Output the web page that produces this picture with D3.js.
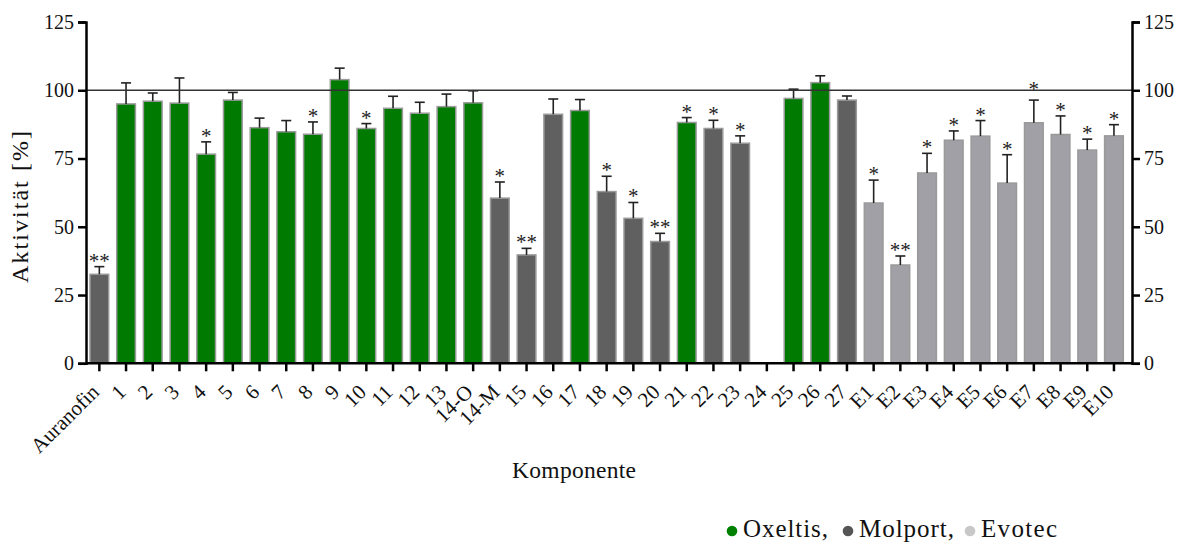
<!DOCTYPE html>
<html><head><meta charset="utf-8">
<script src="https://cdn.jsdelivr.net/npm/d3@7"></script>
<style>body{margin:0;background:#fff}svg{display:block}</style>
</head><body><svg id="c" width="1182" height="544"></svg>
<script>
const categories = ["Auranofin","1","2","3","4","5","6","7","8","9","10","11","12","13","14-O","14-M","15","16","17","18","19","20","21","22","23","24","25","26","27","E1","E2","E3","E4","E5","E6","E7","E8","E9","E10"];
const values = [32.6,95.0,96.0,95.3,76.6,96.4,86.3,84.8,83.9,103.9,86.0,93.4,91.6,94.0,95.4,60.5,39.7,91.2,92.6,62.9,53.1,44.6,88.2,86.0,80.6,null,97.0,102.8,96.4,58.7,36.0,69.7,81.7,83.2,66.0,88.1,83.8,78.1,83.3];
const errorTops = [35.4,102.7,99.0,104.5,81.1,99.2,89.8,88.9,88.4,108.1,87.8,97.8,95.6,98.6,99.8,66.4,42.1,96.8,96.6,68.5,58.9,47.6,90.0,89.0,83.3,null,100.4,105.3,97.9,67.1,39.3,76.9,85.1,88.9,76.4,96.4,90.6,82.1,87.4];
const sources = ["M","O","O","O","O","O","O","O","O","O","O","O","O","O","O","M","M","M","O","M","M","M","O","M","M","M","O","O","M","E","E","E","E","E","E","E","E","E","E"];
const significance = ["**","","","","*","","","","*","","*","","","","","*","**","","","*","*","**","*","*","*","","","","","*","**","*","*","*","*","*","*","*","*"];
const yTicks = [0,25,50,75,100,125];
const legendNames = ["Oxeltis,","Molport,","Evotec"];
const legendKeys = ["O","M","E"];

const fillColor = {O:"#007a00", M:"#606060", E:"#a0a0a6"};
const legendColor = {O:"#008000", M:"#555555", E:"#c8c8c8"};
const FONT = "Liberation Serif, serif";

const svg = d3.select("#c");
const L = 86, R = 1132, T = 22, B = 363.3;
const x = d3.scaleBand().domain(categories).range([L, L + 39*26.7]).paddingInner(0.3).paddingOuter(0.15);
const y = d3.scaleLinear().domain([0,125]).range([B, T]);

const data = categories.map((c,i)=>({c, v:values[i], e:errorTops[i], s:sources[i], sig:significance[i]}));
const bd = data.filter(d=>d.v!=null);
svg.append("g").selectAll("rect").data(bd).join("rect")
  .attr("x", d=>x(d.c)).attr("width", x.bandwidth())
  .attr("y", d=>y(d.v)).attr("height", d=>y(0)-y(d.v))
  .attr("fill", d=>fillColor[d.s]).attr("stroke","#9a9a9a").attr("stroke-width",1.5);

const eg = svg.append("g").attr("stroke","#222").attr("stroke-width",1.6);
bd.forEach(d=>{
  const cx = x(d.c)+x.bandwidth()/2;
  eg.append("line").attr("x1",cx).attr("x2",cx).attr("y1",y(d.v)).attr("y2",y(d.e));
  eg.append("line").attr("x1",cx-5).attr("x2",cx+5).attr("y1",y(d.e)).attr("y2",y(d.e));
});

// significance marks (lifted onto the 100 % line when they would cross it)
svg.append("g").selectAll("text").data(bd.filter(d=>d.sig)).join("text")
  .attr("x", d=>x(d.c)+x.bandwidth()/2)
  .attr("y", d=>{ let yy = y(d.e)+1; if (yy > y(100)+6 && yy-14 < y(100)) yy = y(100)+6; return yy; })
  .attr("text-anchor","middle").attr("font-family",FONT).attr("font-size",21).attr("fill","#222")
  .text(d=>d.sig);

svg.append("line").attr("x1",L).attr("x2",R).attr("y1",y(100)).attr("y2",y(100))
  .attr("stroke","#333").attr("stroke-width",1.6);

const yl = svg.append("g").attr("transform",`translate(${L},0)`).call(d3.axisLeft(y).tickValues(yTicks).tickSize(8).tickPadding(4));
const yr = svg.append("g").attr("transform",`translate(${R},0)`).call(d3.axisRight(y).tickValues(yTicks).tickSize(8).tickPadding(4));
const xa = svg.append("g").attr("transform",`translate(0,${B})`).call(d3.axisBottom(x).tickSize(8).tickSizeOuter(0));
xa.select(".domain").attr("d",`M${L},0H${R}`);
[yl,yr,xa].forEach(g=>{
  g.select(".domain").attr("stroke","#000").attr("stroke-width",2.5);
  g.selectAll(".tick line").attr("stroke","#000").attr("stroke-width",2.5);
  g.selectAll("text").attr("font-family",FONT).attr("font-size",20).attr("fill","#111");
});
xa.selectAll(".tick text").attr("font-size",21).attr("text-anchor","end").attr("dy",null).attr("y",0)
  .attr("transform","translate(1,30) rotate(-45)");

svg.append("text").attr("transform",`translate(28,207) rotate(-90)`).attr("text-anchor","middle")
  .attr("font-family",FONT).attr("font-size",24).attr("fill","#111")
  .attr("textLength",152).attr("lengthAdjust","spacing").text("Aktivität [%]");
svg.append("text").attr("x",574).attr("y",478).attr("text-anchor","middle")
  .attr("font-family",FONT).attr("font-size",23.5).attr("fill","#111")
  .attr("textLength",124).attr("lengthAdjust","spacing").text("Komponente");

const legX = [732, 848, 970];
const legLen = [85, 95, 76];
const lg = svg.append("g");
legendKeys.forEach((k,i)=>{
  lg.append("circle").attr("cx",legX[i]).attr("cy",531).attr("r",5.3).attr("fill",legendColor[k]);
  lg.append("text").attr("x",legX[i]+11).attr("y",537).attr("font-family",FONT).attr("font-size",25).attr("fill","#111")
    .attr("textLength",legLen[i]).attr("lengthAdjust","spacing").text(legendNames[i]);
});
</script></body></html>
